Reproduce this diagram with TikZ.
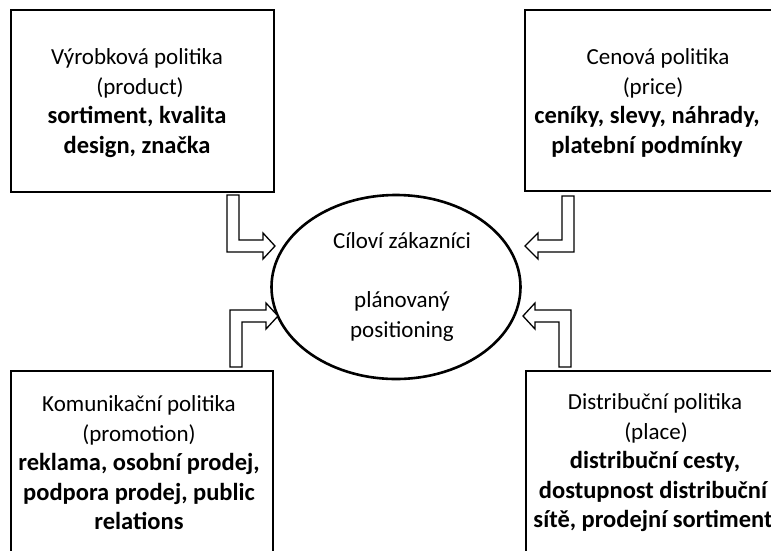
\documentclass[tikz,border=0pt]{standalone}
\usepackage{fontspec}
\setmainfont{Carlito}
\usetikzlibrary{shapes.geometric}
\newcommand{\bld}[1]{{\fontsize{24.5}{29.5}\selectfont\bfseries #1}}
\tikzset{
  box/.style={draw=black, line width=2pt, rectangle, inner sep=0pt},
  txt/.style={align=center, inner sep=0pt, font=\fontsize{23}{29.5}\selectfont},
  oval/.style={draw=black, line width=2.6pt, ellipse, inner sep=0pt},
  blockarrow/.style={draw=black, line width=1.3pt, fill=white, line join=miter}
}
\begin{document}
\begin{tikzpicture}[x=1pt,y=-1pt]
\useasboundingbox (0,0) rectangle (771,550);
\fill[white] (0,0) rectangle (771,550);
\clip (0,0) rectangle (771,550);
% boxes
\node[box, minimum width=263pt, minimum height=182pt] (tl) at (142.5,101) {};
\node[box, minimum width=252pt, minimum height=181pt] (tr) at (651,100.5) {};
\node[box, minimum width=262pt, minimum height=186pt] (bl) at (142,464) {};
\node[box, minimum width=258pt, minimum height=186pt] (br) at (655,464) {};
% texts
\node[txt] (tlt) at (137,103) {Výrobková politika\\\hspace*{6pt}(product)\\\bld{sortiment, kvalita}\\\bld{design, značka}};
\node[txt] (trt) at (647,103) {\hspace*{22pt}Cenová politika\\\hspace*{12pt}(price)\\\bld{ceníky, slevy, náhrady,}\\\bld{platební podmínky}};
\node[txt] (blt) at (139,463) {Komunikační politika\\(promotion)\\\bld{reklama, osobní prodej,}\\\bld{podpora prodej, public}\\\bld{relations}};
\node[txt] (brt) at (653,463) {\hspace*{4pt}Distribuční politika\\\hspace*{6pt}(place)\\\hspace*{4pt}\bld{distribuční cesty,}\\\bld{dostupnost distribuční}\\\bld{sítě, prodejní sortiment}};
% ellipse
\node[oval, minimum width=249pt, minimum height=184pt] (c) at (396,287) {};
\node[txt] (ct) at (402,287) {Cíloví zákazníci\\[29.5pt]plánovaný\\positioning};
% block arrows
\draw[blockarrow] (227,195) -- (239,195) -- (239,240) -- (263,240) -- (263,233) -- (275,246) -- (263,259) -- (263,252) -- (227,252) -- cycle;
\draw[blockarrow] (574,196) -- (562,196) -- (562,240) -- (538,240) -- (538,233) -- (525,246) -- (538,259) -- (538,252) -- (574,252) -- cycle;
\draw[blockarrow] (230,367) -- (242,367) -- (242,322) -- (266,322) -- (266,329) -- (278,316) -- (266,303) -- (266,310) -- (230,310) -- cycle;
\draw[blockarrow] (571,367) -- (559,367) -- (559,322) -- (535,322) -- (535,329) -- (523,316) -- (535,303) -- (535,310) -- (571,310) -- cycle;
\end{tikzpicture}
\end{document}
